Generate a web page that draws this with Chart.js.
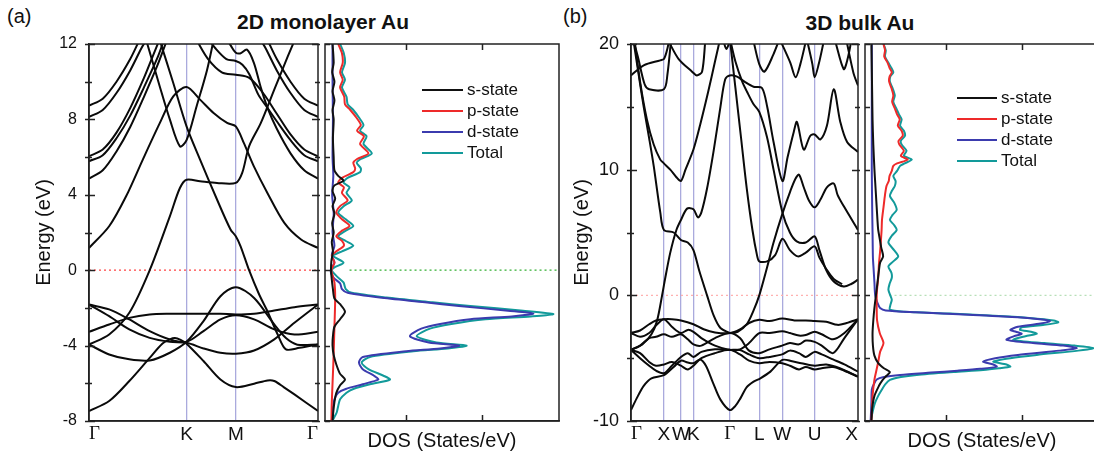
<!DOCTYPE html>
<html>
<head>
<meta charset="utf-8">
<script src="https://cdn.jsdelivr.net/npm/chart.js@4.4.1/dist/chart.umd.min.js"></script>
<style>
  body { margin: 0; width: 1094px; height: 453px; overflow: hidden; background: #fff;
         position: relative; font-family: "Liberation Sans", Arial, sans-serif; color: #111; }
  .box { position: absolute; top: 0; height: 453px; }
  .lbl { position: absolute; font-size: 20px; line-height: 1; }
  .ttl { position: absolute; font-size: 21px; line-height: 1; font-weight: bold; transform: translateX(-50%); white-space: nowrap; }
</style>
</head>
<body>
<div class="lbl" style="left:7px;top:6px">(a)</div>
<div class="ttl" style="left:323px;top:11px">2D monolayer Au</div>
<div class="lbl" style="left:563px;top:6px">(b)</div>
<div class="ttl" style="left:860px;top:12px">3D bulk Au</div>

<div class="box" style="left:0;width:320px"><canvas id="bandA"></canvas></div>
<div class="box" style="left:322px;width:240px"><canvas id="dosA"></canvas></div>
<div class="box" style="left:560px;width:300px"><canvas id="bandB"></canvas></div>
<div class="box" style="left:862px;width:240px"><canvas id="dosB"></canvas></div>

<script>
// k-path positions (percent of path length) and labels
const kTicksA = [0, 42.6, 64.1, 100];
const kLabelsA = ['Γ', 'K', 'M', 'Γ'];
const kTicksB = [0, 14.5, 22, 27.5, 43.5, 56.5, 66.6, 80.9, 100];
const kLabelsB = ['Γ', 'X', 'W', 'K', 'Γ', 'L', 'W', 'U', 'X'];

// energy ranges [min, max, labelled step]
const eAxisA = [-8, 12, 4];
const eAxisB = [-10, 20, 10];

// monolayer bands, [k, E] pairs
const bandsA = [
  [[0,-7.47],[8.8,-6.94],[17.6,-5.88],[26.5,-4.65],[32,-3.9],[35.3,-3.67],[37.5,-3.6],[40,-3.7],[42.6,-3.9],[50,-4.82],[57.4,-5.8],[64.1,-6.2],[72.1,-6.02],[78,-5.85],[80.9,-5.88],[85,-6.2],[89.7,-6.59],[100,-7.47]],
  [[0,-3.94],[8.8,-4.47],[17.6,-4.73],[26.5,-4.79],[35.3,-4.38],[42.6,-3.8],[50,-2.7],[57.4,-1.38],[64.1,-0.9],[72.1,-1.47],[80.9,-2.88],[86,-3.6],[91,-3.95],[100,-3.94]],
  [[0,-3.27],[8.8,-2.88],[17.6,-2.53],[26.5,-2.35],[35.3,-2.31],[42.6,-2.31],[50,-2.31],[57.4,-2.31],[64.1,-2.35],[72.1,-2.31],[80.9,-2.14],[89.7,-1.96],[100,-1.82]],
  [[0,-1.82],[8.8,-2.44],[17.6,-3.14],[26.5,-3.59],[35.3,-3.8],[42.6,-3.85],[50,-4.15],[57.4,-4.38],[64.1,-4.43],[72.1,-4.26],[80.9,-3.67],[89.7,-2.79],[100,-1.82]],
  [[0,-1.82],[8.8,-2.08],[17.6,-2.61],[26.5,-3.23],[35.3,-3.67],[42.6,-3.8],[50,-3.23],[57.4,-2.61],[64.1,-2.39],[72.1,-2.61],[80.9,-3.14],[89.7,-3.41],[100,-3.27]],
  [[0,-3.94],[8.8,-3.41],[17.6,-2.26],[26.5,0],[35.3,2.86],[39.7,4.36],[42.6,4.8],[48.5,4.72],[55.9,4.63],[64.1,4.63],[66.9,5.16],[69.9,6.57],[75,7.8],[80.9,9.58],[86.8,11.34],[91.2,12.6]],
  [[0,1.18],[8.8,2.33],[16.2,3.92],[23.5,5.87],[30.9,7.8],[36.8,9.22],[42.6,9.72],[48.5,9.05],[54.4,8.34],[60.3,7.81],[64.1,7.63],[67.6,6.75],[72,5.51],[77.9,4.1],[85.3,2.51],[92.6,1.63],[100,1.18]],
  [[30.9,12.2],[36.8,9.93],[42.6,7.63],[48.5,5.87],[55.9,3.75],[61.8,2.16],[64.1,1.8],[66.2,1.27],[69.9,0],[74.3,-1.29],[77.9,-2.17],[82.4,-3.41],[86,-4.2],[91.9,-4.12],[100,-3.94]],
  [[25,12.2],[30.9,9.75],[35.3,8.0],[39.7,6.57],[42.6,6.9],[47,8.7],[51.5,10.6],[54.4,12.2]],
  [[0,8.73],[6,9.1],[12,10.0],[18,11.2],[22,12.2]],
  [[0,8.13],[6,8.5],[12,9.4],[18,10.6],[23,11.8],[26,12.4]],
  [[0,6.04],[6,6.4],[12,7.3],[18,8.6],[24,10.2],[28,11.4],[31,12.3]],
  [[0,5.78],[6,6.1],[12,7.0],[18,8.2],[24,9.7],[30,11.3],[33,12.3]],
  [[0,4.86],[6,5.3],[12,6.3],[18,7.6],[24,9.2],[30,10.9],[34,12.2]],
  [[78,12.2],[82,11.2],[88,10.0],[94,9.1],[100,8.73]],
  [[74,12.4],[77,11.8],[82,10.6],[88,9.4],[94,8.5],[100,8.13]],
  [[47,12.2],[52,11.2],[58,10.5],[64.1,10.37],[70,10.2],[76,9.4],[82,8.3],[88,7.2],[94,6.4],[100,6.04]],
  [[52,12.3],[55,11.8],[60,11.2],[64.1,11.1],[67,10.9],[70,10.4],[74,9.3],[78,8.6],[82,7.9],[88,6.9],[94,6.1],[100,5.78]],
  [[60,12.3],[62,11.9],[64,11.55],[66,11.5],[69,11.7],[72,11.0],[75,9.7],[78,8.6],[82,7.5],[88,6.2],[94,5.3],[100,4.86]]
];

// bulk bands, [k, E] pairs
const bandsB = [
  [[0,-9.13],[2.5,-8.2],[5.6,-7.2],[9,-6.6],[14.5,-6.35],[18.8,-5.7],[22,-5.2],[25,-5.35],[27.5,-5.4],[30.5,-5.1],[33,-5.6],[36,-6.9],[39.4,-8.3],[43.5,-9.13],[46,-8.8],[48.2,-8.2],[51,-7.3],[54,-6.87],[57,-6.6],[61.4,-6.07],[66.7,-5.14],[71,-5.25],[75,-5.4],[80.9,-5.6],[86,-5.5],[92,-5.8],[100,-6.47]],
  [[0,-3.0],[4,-2.8],[8,-2.3],[11,-2.0],[14.5,-1.9],[18,-1.9],[22,-2.0],[27.5,-2.3],[32,-2.7],[37,-2.95],[43.5,-3.0],[48,-2.7],[52,-2.2],[56.5,-1.95],[61,-2.05],[66.6,-1.85],[72,-2.0],[77,-2.0],[80.9,-2.05],[86,-2.1],[91,-2.35],[95,-2.2],[100,-1.9]],
  [[0,-3.0],[4,-3.3],[8,-3.0],[11,-2.4],[14.5,-1.9],[18,-2.5],[22,-3.0],[25,-2.75],[27.5,-2.9],[31,-3.4],[37,-4.0],[43.5,-4.34],[48,-4.3],[52,-3.8],[56.5,-3.0],[61,-3.0],[66.6,-2.85],[70,-3.0],[74,-3.2],[77,-3.15],[80.9,-2.9],[84,-3.1],[89,-3.5],[94,-3.0],[100,-1.9]],
  [[0,-4.34],[4,-4.0],[8,-3.4],[11,-3.3],[14.5,-3.1],[18,-3.3],[22,-3.1],[25,-3.5],[27.5,-3.9],[31,-4.0],[37,-3.4],[43.5,-3.0],[48,-3.4],[52,-4.4],[56.5,-4.6],[61,-4.3],[66.6,-4.0],[70,-3.8],[74,-3.9],[77,-3.6],[80.9,-3.7],[84,-4.0],[89,-4.6],[94,-3.4],[100,-1.9]],
  [[0,-4.34],[4,-5.0],[8,-5.6],[11,-6.0],[14.5,-6.2],[18,-5.6],[22,-4.9],[25,-4.6],[27.5,-4.9],[31,-4.5],[37,-4.3],[43.5,-4.34],[48,-4.35],[52,-4.7],[56.5,-5.0],[61,-4.9],[66.6,-4.7],[70,-4.4],[74,-4.6],[77,-4.9],[80.9,-4.5],[84,-4.7],[89,-5.1],[94,-5.5],[100,-6.07]],
  [[0,-4.34],[4,-4.6],[8,-5.3],[11,-5.6],[14.5,-5.5],[18,-5.3],[22,-5.6],[25,-5.9],[27.5,-5.6],[31,-5.0],[37,-4.6],[43.5,-4.34],[48,-4.7],[52,-5.2],[56.5,-5.4],[61,-5.3],[66.6,-5.4],[70,-5.6],[74,-5.9],[77,-5.7],[80.9,-5.9],[84,-5.8],[89,-5.7],[94,-6.0],[100,-6.47]],
  [[0,17.5],[5.6,18.3],[12.9,18.7],[14.5,18.8],[16,19.6],[17.5,21]],
  [[0,21],[3,19],[6,16.8],[8,16.4],[14.5,16.4],[16,17.5],[18,21]],
  [[1,21],[4,17],[7,14],[10,12],[12.9,10.8],[14.5,10.5],[17.3,10.0],[20,9.4],[22,9.1],[24,10.0],[27.5,11.6],[30.5,13.6],[34,16.2],[37,18.6],[40,21]],
  [[0.5,21],[3,18],[5.6,15],[8,12.5],[10,10.3],[12.9,6.6],[14.5,5.2],[18.8,5.0],[22,4.4],[25,4.2],[27.5,3.6],[30,2.0],[33.5,0],[36.4,-1.6],[39.4,-2.6],[43.5,-3.0]],
  [[0,-4.34],[5,-3.9],[9,-3.1],[11.5,-2.0],[13.7,0],[15,1.3],[17.3,3.4],[20,5.2],[22,6.0],[24.7,6.9],[27.5,6.85],[29.5,6.2],[31,6.6],[33.5,8.5],[36.4,11.5],[39.4,15.0],[41.5,17.2],[43.5,17.5],[46.7,17.4],[50,17.0],[54,16.6],[57.7,16.5],[60,15.0],[62.8,12.2],[66.7,9.1],[69,11.0],[71.7,13.0],[73.1,13.8],[76.1,11.6],[79,12.7],[80.9,12.8],[83.4,12.4],[86.3,13.5],[89.3,16.4],[92.2,13.8],[95.2,12.2],[100,11.4]],
  [[43.5,20.5],[46,18.6],[49,17.0],[51.1,16.2],[54,15.2],[56.5,14.6],[59.9,12.6],[62.8,10.0],[66.7,6.6],[70,5.0],[73,4.3],[77,4.2],[80.9,4.7],[83,3.6],[86,2.0],[89.3,1.1],[93.7,0.7],[97,0.9],[100,1.25]],
  [[43.5,-3.0],[47,-2.9],[51,-2.3],[54,-1.2],[56.5,0],[59.9,2.2],[62.8,4.2],[66.7,6.5],[70.2,8.3],[72.5,9.3],[74,9.6],[76.1,8.6],[78.5,7.5],[80.9,7.0],[83.4,7.6],[86.3,8.6],[89.3,8.9],[91,8.0],[93.7,7.1],[100,5.2]],
  [[43.5,20.5],[46,16.5],[48.5,12.5],[51,8.5],[53.5,5.2],[55.5,3.2],[56.5,2.7],[60,2.7],[63.5,3.2],[66.7,4.5],[70,3.6],[73.5,3.1],[77,3.4],[80.9,3.9],[83,3.0],[86,2.1],[89.3,1.3],[93,0.9]],
  [[16.6,20.2],[21,18.8],[26.9,17.8],[29,17.5],[31.3,17.8],[32.7,20.2]],
  [[40.8,20.2],[42,19.6],[43.5,20.2]],
  [[54,20.2],[56.5,18.4],[58.8,17.8],[62.8,19.2],[65,20.2]],
  [[66,20.2],[70.2,18.5],[72.5,17.35],[74.6,18.4],[77,20.2]],
  [[77.7,20.2],[79.9,18.4],[80.9,17.35],[82.7,18.4],[84.9,20.2]],
  [[90,20.2],[93.7,18.0],[95.4,18.8],[97,20.2]],
  [[95,20.2],[98,17.7],[100,16.7]]
];

// DOS of the monolayer, [E, states/eV]
const dosTotalA = [[12,0.25],[11.5,0.35],[11,0.38],[10.5,0.3],[10.1,0.38],[9.7,0.3],[9.2,0.42],[8.8,0.45],[8.5,0.6],[8.1,0.75],[7.7,0.87],[7.4,0.78],[7.1,0.95],[6.7,0.87],[6.2,1.09],[5.9,0.8],[5.7,0.69],[5.4,0.8],[5.2,0.78],[4.9,0.45],[4.65,0.34],[4.4,0.5],[4.1,0.42],[3.7,0.56],[3.4,0.35],[3.05,0.2],[2.7,0.4],[2.35,0.6],[2.1,0.4],[1.8,0.2],[1.55,0.4],[1.3,0.6],[1.0,0.3],[0.76,0.07],[0.4,0.34],[0.15,0.1],[0,0.03],[-0.3,0.15],[-0.65,0.34],[-1.0,0.4],[-1.2,0.56],[-1.45,1.48],[-1.7,2.7],[-1.9,3.7],[-2.15,5.1],[-2.33,5.9],[-2.45,5.3],[-2.6,4.1],[-2.85,3.2],[-3.1,2.63],[-3.5,2.28],[-3.83,2.8],[-4.0,3.6],[-4.15,3.1],[-4.3,2.19],[-4.6,1.04],[-4.9,0.82],[-5.25,1.0],[-5.6,1.4],[-5.8,1.57],[-6.05,1.04],[-6.3,0.6],[-6.5,0.42],[-6.85,0.25],[-7.2,0.2],[-7.55,0.16],[-7.9,0.07],[-8,0.05]];
const dosDA = [[12,0.05],[10,0.05],[8,0.06],[6,0.05],[5,0.07],[4,0.04],[3,0.08],[2,0.05],[1.3,0.1],[0.8,0.03],[0.4,0.1],[0,0.0],[-0.4,0.08],[-0.7,0.25],[-1.0,0.3],[-1.2,0.45],[-1.45,1.3],[-1.7,2.5],[-1.9,3.4],[-2.15,4.7],[-2.3,5.37],[-2.45,4.8],[-2.6,3.7],[-2.85,2.9],[-3.1,2.4],[-3.5,2.1],[-3.83,2.6],[-4.0,3.4],[-4.15,2.9],[-4.3,2.0],[-4.6,0.85],[-4.9,0.75],[-5.25,0.85],[-5.6,1.15],[-5.8,1.26],[-6.05,0.85],[-6.3,0.4],[-6.5,0.2],[-6.85,0.1],[-7.5,0.05],[-8,0.03]];
const dosPA = [[12,0.2],[11.5,0.3],[11,0.32],[10.5,0.25],[10.1,0.32],[9.7,0.25],[9.2,0.36],[8.8,0.38],[8.5,0.52],[8.1,0.68],[7.7,0.8],[7.4,0.7],[7.1,0.88],[6.7,0.78],[6.2,1.0],[5.9,0.7],[5.7,0.6],[5.4,0.65],[5.2,0.6],[4.9,0.3],[4.65,0.2],[4.4,0.35],[4.1,0.3],[3.7,0.45],[3.4,0.25],[3.05,0.15],[2.7,0.3],[2.35,0.5],[2.1,0.3],[1.8,0.15],[1.55,0.3],[1.3,0.35],[1.0,0.15],[0.76,0.03],[0.4,0.1],[0,0.02],[-0.65,0.1],[-1.5,0.12],[-3,0.1],[-5,0.07],[-7,0.03],[-8,0.02]];
const dosSA = [[12,0.05],[11,0.08],[10.5,0.04],[10,0.1],[9.5,0.05],[9,0.1],[8.5,0.05],[8,0.08],[7,0.06],[6,0.08],[5.3,0.1],[5.0,0.2],[4.75,0.34],[4.5,0.1],[4.2,0.05],[3.8,0.12],[3.4,0.05],[3,0.1],[2.5,0.04],[2,0.08],[1.5,0.03],[1,0.06],[0.5,0.02],[0,0.01],[-0.5,0.03],[-1,0.06],[-1.5,0.1],[-1.8,0.25],[-2.2,0.38],[-2.6,0.25],[-3,0.1],[-3.5,0.06],[-4,0.05],[-4.5,0.08],[-5,0.15],[-5.5,0.25],[-5.8,0.38],[-6.1,0.25],[-6.5,0.15],[-7,0.1],[-7.5,0.07],[-8,0.05]];

// DOS of the bulk, [E, states/eV]
const dosTotalB = [[20,0.34],[19.5,0.4],[19,0.38],[18.5,0.47],[18.1,0.55],[17.75,0.6],[17.4,0.52],[17,0.51],[16.5,0.58],[15.9,0.64],[15.4,0.6],[14.8,0.69],[14.4,0.75],[14.0,0.82],[13.5,0.78],[13.1,0.88],[12.7,0.91],[12.3,0.8],[12.0,0.82],[11.5,0.95],[11.1,0.88],[10.8,1.09],[10.5,0.9],[10.3,0.78],[9.9,0.7],[9.5,0.6],[9.1,0.66],[8.7,0.64],[8.3,0.56],[7.9,0.51],[7.4,0.62],[6.8,0.69],[6.4,0.58],[6.0,0.51],[5.6,0.62],[5.2,0.69],[4.7,0.55],[4.2,0.47],[3.6,0.62],[3.1,0.73],[2.7,0.6],[2.3,0.47],[1.8,0.55],[1.4,0.56],[0.9,0.5],[0.45,0.47],[0,0.52],[-0.35,0.56],[-0.8,0.52],[-1.15,0.51],[-1.3,0.9],[-1.45,2.1],[-1.65,3.4],[-1.8,4.2],[-2.0,4.85],[-2.15,4.97],[-2.35,4.6],[-2.55,4.0],[-2.75,3.96],[-2.9,4.25],[-3.06,4.4],[-3.25,4.1],[-3.54,3.78],[-3.8,4.6],[-4.0,5.4],[-4.2,5.9],[-4.4,5.5],[-4.74,4.4],[-5.0,3.7],[-5.27,3.25],[-5.5,3.6],[-5.67,3.7],[-5.8,3.4],[-5.94,2.98],[-6.1,2.2],[-6.33,1.22],[-6.5,0.8],[-6.73,0.51],[-7.1,0.38],[-7.53,0.29],[-8.0,0.2],[-8.6,0.11],[-9.3,0.05],[-10,0.0]];
const dosDB = [[20,0.03],[15,0.03],[10,0.03],[7,0.04],[5,0.05],[3,0.06],[2,0.08],[1,0.1],[0,0.12],[-0.6,0.18],[-1.0,0.25],[-1.2,0.4],[-1.35,1.2],[-1.55,2.6],[-1.75,3.9],[-1.95,4.6],[-2.05,4.75],[-2.25,4.5],[-2.5,3.9],[-2.75,3.7],[-2.9,3.85],[-3.06,4.0],[-3.25,3.8],[-3.54,3.6],[-3.8,4.3],[-4.0,5.1],[-4.2,5.46],[-4.4,5.0],[-4.74,3.9],[-5.0,3.3],[-5.27,2.98],[-5.5,3.25],[-5.67,3.34],[-5.85,2.9],[-6.0,2.3],[-6.15,1.6],[-6.33,0.78],[-6.5,0.35],[-6.7,0.16],[-7.1,0.08],[-7.5,0.03],[-8.5,0.02],[-10,0.0]];
const dosPB = [[20,0.34],[19.5,0.38],[19,0.36],[18.5,0.45],[18.1,0.5],[17.75,0.56],[17.4,0.5],[17,0.49],[16.5,0.55],[15.9,0.6],[15.4,0.57],[14.8,0.65],[14.4,0.7],[14.0,0.77],[13.5,0.72],[13.1,0.82],[12.7,0.85],[12.3,0.74],[12.0,0.76],[11.5,0.88],[11.1,0.8],[10.8,0.98],[10.5,0.7],[10.3,0.6],[9.9,0.56],[9.5,0.5],[9.1,0.48],[8.7,0.42],[8.0,0.38],[7.0,0.34],[6.0,0.3],[5.2,0.29],[4.3,0.27],[3.5,0.25],[2.5,0.22],[1.4,0.2],[0.5,0.17],[0,0.16],[-1,0.16],[-2,0.17],[-3,0.24],[-3.8,0.34],[-4.5,0.25],[-5.3,0.2],[-6,0.15],[-6.7,0.1],[-8,0.05],[-10,0.02]];
const dosSB = [[20,0.02],[18,0.03],[16,0.04],[14,0.05],[12,0.07],[10,0.1],[9,0.12],[8,0.14],[7,0.16],[6,0.18],[5.2,0.2],[4.5,0.24],[3.8,0.28],[3.1,0.33],[2.6,0.25],[2,0.22],[1,0.18],[0,0.14],[-1,0.1],[-2,0.07],[-3,0.05],[-4,0.06],[-4.8,0.1],[-5.4,0.2],[-5.8,0.35],[-6.1,0.51],[-6.4,0.42],[-6.8,0.3],[-7.2,0.22],[-8,0.1],[-9,0.04],[-10,0.02]];

const dosNames = ['s-state', 'p-state', 'd-state', 'Total'];
const dosColors = ['#111111', '#ee2a2a', '#3b3bae', '#129a9a'];
const dosRange = [-0.15, 6.05];
const dosTicks = [2, 4];

const SANS = 'Liberation Sans';

// frame on all four sides, inward tick marks, optional legend
const framePlugin = {
  id: 'frame',
  afterDatasetsDraw(chart, args, o) {
    const { ctx, chartArea: a, scales } = chart;
    ctx.save();
    ctx.strokeStyle = '#222';
    ctx.lineWidth = 1.5;
    ctx.strokeRect(a.left, a.top, a.right - a.left, a.bottom - a.top);
    const y = scales.y;
    for (let v = y.min; v <= y.max + 1e-6; v += o.yStep) {
      const py = Math.round(y.getPixelForValue(v)) + 0.5;
      const major = Math.abs(v % o.yMajor) < 1e-6;
      const inL = major ? o.majorLen : o.minorLen;
      ctx.beginPath();
      ctx.moveTo(a.left - o.outLen, py); ctx.lineTo(a.left + inL, py);
      if (o.right) { ctx.moveTo(a.right + o.outLen, py); ctx.lineTo(a.right - inL, py); }
      ctx.stroke();
    }
    (o.xTicks || []).forEach(v => {
      const px = Math.round(scales.x.getPixelForValue(v)) + 0.5;
      ctx.beginPath();
      ctx.moveTo(px, a.top); ctx.lineTo(px, a.top + 6);
      ctx.moveTo(px, a.bottom); ctx.lineTo(px, a.bottom - 6);
      ctx.stroke();
    });
    if (o.legend) {
      const L = o.legend;
      ctx.font = '17px "' + SANS + '"';
      ctx.textBaseline = 'middle';
      dosNames.forEach((name, i) => {
        const yy = a.top + L.y + i * L.dy;
        ctx.strokeStyle = dosColors[i];
        ctx.lineWidth = 2;
        ctx.beginPath();
        ctx.moveTo(a.left + L.x, yy); ctx.lineTo(a.left + L.x + L.len, yy);
        ctx.stroke();
        ctx.fillStyle = '#111';
        ctx.fillText(name, a.left + L.x + L.len + 4, yy);
      });
    }
    ctx.restore();
  }
};

const toXY = pts => pts.map(p => ({ x: p[0], y: p[1] }));
const toDos = pts => pts.map(p => ({ x: p[1], y: p[0] }));

function bandChart(id, bands, kTicks, kLabels, eAxis, axisW, titlePad, tickSize, fermiColor) {
  const sets = bands.map(b => ({
    data: toXY(b), showLine: true, borderColor: '#0a0a0a', borderWidth: 2, tension: 0.3, pointRadius: 0
  }));
  sets.push({
    data: toXY([[0, 0], [100, 0]]), showLine: true, borderColor: fermiColor,
    borderWidth: 1.2, borderDash: [2, 3], pointRadius: 0, order: 1
  });
  new Chart(document.getElementById(id), {
    type: 'scatter',
    data: { datasets: sets },
    options: {
      animation: false,
      responsive: true,
      maintainAspectRatio: false,
      layout: { padding: { top: 44, right: 2, left: 0, bottom: 0 } },
      plugins: {
        legend: { display: false },
        tooltip: { enabled: false },
        frame: { yStep: eAxis[2] / 2, yMajor: eAxis[2], right: true, majorLen: 6, minorLen: 3, outLen: 4 }
      },
      scales: {
        x: {
          type: 'linear', min: 0, max: 100,
          afterBuildTicks: s => { s.ticks = kTicks.map(v => ({ value: v })); },
          afterFit: s => { s.height = 32; },
          ticks: {
            autoSkip: false, maxRotation: 0, align: 'inner', padding: 2, color: '#111',
            callback: (v, i) => kLabels[i],
            font: c => ({ family: kLabels[c.index] === 'Γ' ? 'Liberation Serif' : SANS, size: 19 })
          },
          grid: {
            drawTicks: false, lineWidth: 1.3,
            color: c => (c.index > 0 && c.index < kTicks.length - 1) ? '#aaaadd' : 'rgba(0,0,0,0)'
          },
          border: { color: '#222', width: 1.5 }
        },
        y: {
          min: eAxis[0], max: eAxis[1],
          afterFit: s => { s.width = axisW; },
          ticks: { stepSize: eAxis[2], padding: 12, color: '#111', font: { family: SANS, size: tickSize } },
          grid: { display: false, drawTicks: false },
          border: { color: '#222', width: 1.5 },
          title: { display: true, text: 'Energy (eV)', color: '#111', font: { family: SANS, size: 20 }, padding: { top: titlePad, bottom: 0 } }
        }
      }
    },
    plugins: [framePlugin]
  });
}

function dosChart(id, comps, eAxis, legend, fermiColor) {
  const sets = comps.map((c, i) => ({
    data: toDos(c), showLine: true, borderColor: dosColors[i], borderWidth: 2, tension: 0.25, pointRadius: 0
  }));
  sets.push({
    data: [{ x: 0.5, y: 0 }, { x: dosRange[1], y: 0 }], showLine: true, borderColor: fermiColor,
    borderWidth: 1.2, borderDash: [2, 3], pointRadius: 0
  });
  new Chart(document.getElementById(id), {
    type: 'scatter',
    data: { datasets: sets },
    options: {
      animation: false,
      responsive: true,
      maintainAspectRatio: false,
      layout: { padding: { top: 44, right: 3, left: 3, bottom: 0 } },
      plugins: {
        legend: { display: false },
        tooltip: { enabled: false },
        frame: { yStep: eAxis[2] / 2, yMajor: eAxis[2], right: false, majorLen: 5, minorLen: 5, outLen: 0, xTicks: dosTicks, legend: legend }
      },
      scales: {
        x: {
          type: 'linear', min: dosRange[0], max: dosRange[1],
          afterFit: s => { s.height = 32; },
          ticks: { display: false },
          grid: { display: false, drawTicks: false },
          border: { color: '#222', width: 1.5 },
          title: { display: true, text: 'DOS (States/eV)', color: '#111', font: { family: SANS, size: 20 }, padding: { top: 3, bottom: 0 } }
        },
        y: { display: false, min: eAxis[0], max: eAxis[1] }
      }
    },
    plugins: [framePlugin]
  });
}

bandChart('bandA', bandsA, kTicksA, kLabelsA, eAxisA, 89, 32, 16, '#ff4444');
dosChart('dosA', [dosSA, dosPA, dosDA, dosTotalA], eAxisA, { x: 97, y: 46, dy: 21, len: 41 }, '#33b033');
bandChart('bandB', bandsB, kTicksB, kLabelsB, eAxisB, 71, 10, 18, '#ffb0b0');
dosChart('dosB', [dosSB, dosPB, dosDB, dosTotalB], eAxisB, { x: 92, y: 54, dy: 21, len: 40 }, '#b8e0b8');
</script>
</body>
</html>
